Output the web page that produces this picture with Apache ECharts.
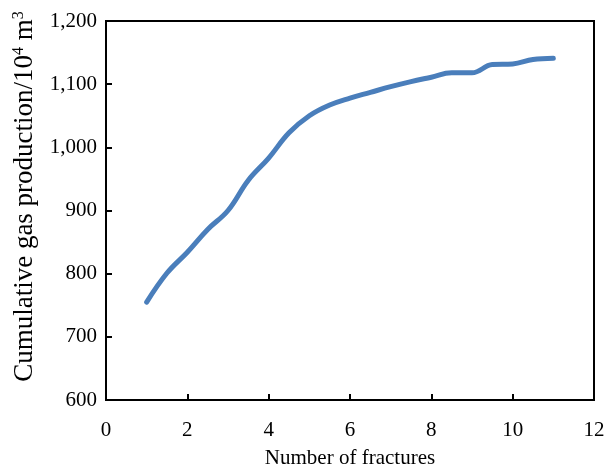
<!DOCTYPE html>
<html>
<head>
<meta charset="utf-8">
<script src="https://cdn.jsdelivr.net/npm/echarts@6/dist/echarts.min.js"></script>
<style>html,body{margin:0;padding:0;background:#fff}#c{width:612px;height:467px}</style>
</head>
<body>
<div id="c"></div>
<script>
var fractures = [1, 1.5, 2, 2.5, 3, 3.5, 4, 4.5, 5, 5.5, 6, 6.5, 7, 7.5, 8, 8.5, 9, 9.5, 10, 10.5, 11];
var production = [755, 801, 834, 870, 900, 948, 983, 1023, 1050, 1067, 1078, 1087, 1096, 1104, 1111, 1118, 1118, 1131, 1132, 1139, 1141];
var xTicks = [0, 2, 4, 6, 8, 10, 12];
var yTicks = [600, 700, 800, 900, 1000, 1100, 1200];

var chart = echarts.init(document.getElementById('c'), null, {renderer: 'canvas'});
var font = '"Liberation Serif", "Times New Roman", serif';
chart.setOption({
  animation: false,
  backgroundColor: '#fff',
  grid: {left: 106, right: 18, top: 21, bottom: 67, containLabel: false, outerBoundsMode: 'none',
    show: true, borderColor: '#000', borderWidth: 2, backgroundColor: 'transparent'},
  xAxis: {
    type: 'value', min: xTicks[0], max: xTicks[xTicks.length - 1], interval: 2,
    name: 'Number of fractures', nameLocation: 'middle', nameGap: 48,
    nameTextStyle: {fontFamily: font, fontSize: 21, color: '#000'},
    axisLine: {show: true, onZero: false, lineStyle: {color: '#000', width: 2}},
    axisTick: {show: true, inside: true, length: 6, lineStyle: {color: '#000', width: 2}},
    axisLabel: {fontFamily: font, fontSize: 21, color: '#000', margin: 20},
    splitLine: {show: false}
  },
  yAxis: {
    type: 'value', min: yTicks[0], max: yTicks[yTicks.length - 1], interval: 100,
    name: '{a|Cumulative gas production/10}{s|4}{a| m}{s|3}', nameLocation: 'middle', nameGap: 66,
    nameRotate: 90,
    nameTextStyle: {fontFamily: font, fontSize: 27, color: '#000', padding: [0, 0, 0, 28],
      rich: {a: {fontFamily: font, fontSize: 27, color: '#000', lineHeight: 29},
             s: {fontFamily: font, fontSize: 16, color: '#000', verticalAlign: 'top', lineHeight: 29}}},
    axisLine: {show: true, lineStyle: {color: '#000', width: 2}},
    axisTick: {show: true, inside: true, length: 6, lineStyle: {color: '#000', width: 2}},
    axisLabel: {fontFamily: font, fontSize: 21, color: '#000', margin: 9,
      formatter: function (v) { return v.toLocaleString('en-US'); }},
    splitLine: {show: false}
  },
  series: [{
    type: 'line', data: fractures.map(function (x, i) { return [x, production[i]]; }),
    smooth: 0.4, showSymbol: false, symbol: 'none',
    lineStyle: {color: '#4A7EBB', width: 5, cap: 'round', join: 'round'}
  }]
});
</script>
</body>
</html>
